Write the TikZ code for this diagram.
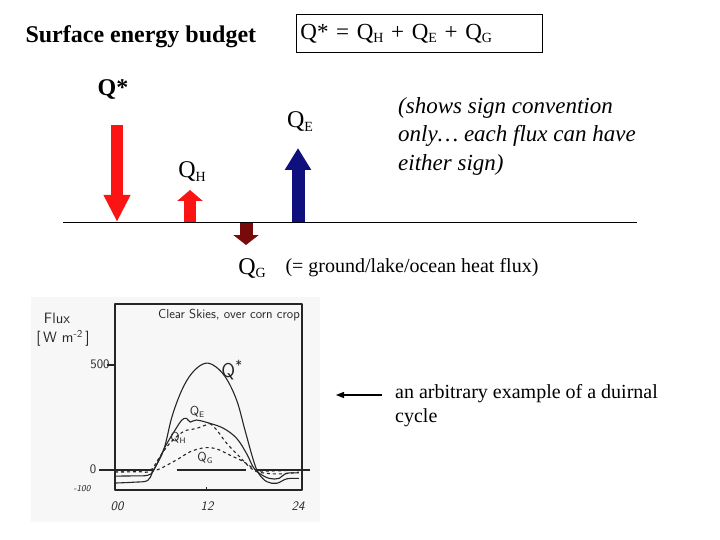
\documentclass[tikz,border=0pt]{standalone}
\usepackage{fontspec}
\setmainfont{Liberation Serif}
\usetikzlibrary{arrows.meta}
\definecolor{fluxred}{RGB}{250,20,20}
\definecolor{fluxblue}{RGB}{15,15,125}
\definecolor{fluxbrown}{RGB}{120,10,10}
\newcommand{\lowsub}[1]{\raisebox{-0.3ex}{\fontsize{14}{14}\selectfont #1}}
\newcommand{\handsub}[1]{\raisebox{-0.3ex}{\fontsize{8}{8}\selectfont #1}}
\tikzset{
    fluxarrow/.style={
        line width=12pt, % shaft width
        -{Triangle[width=25pt,length=#1]} % head, length given per arrow
    },
    qlabel/.style={
        font=\fontsize{24}{28}\selectfont
    },
    eqbox/.style={
        draw,
        line width=0.8pt, % thin frame
        minimum height=38pt,
        text width=238pt,
        inner xsep=4pt,
        align=left,
        font=\fontsize{23}{26}\selectfont
    },
    handline/.style={
        line width=1.1pt,
        line join=round,
        black!85
    },
    handtext/.style={
        font=\sffamily\fontsize{13}{15}\selectfont,
        black!85
    }
}

\begin{document}
\begin{tikzpicture}[
                x=1pt, y=-1pt,
                every node/.style={
                    font=\fontsize{20}{24}\selectfont
                }
            ]
            \useasboundingbox (0,0) rectangle (720,540);
            % heading
            \node[anchor=west, font=\bfseries\fontsize{24}{28}\selectfont] (title) at (22,37) {Surface energy budget};
            \node[eqbox, anchor=north west] (budget) at (296,14) {Q* = Q\lowsub{H} + Q\lowsub{E} + Q\lowsub{G}};

            % flux arrows on the surface
            \coordinate (ground west) at (63,222);
            \coordinate (ground east) at (637,222);
            \coordinate (qs tail) at (117,125);
            \coordinate (qs tip) at (117,222);
            \coordinate (qh tail) at (190,222);
            \coordinate (qh tip) at (190,190);
            \coordinate (qe tail) at (298,222);
            \coordinate (qe tip) at (298,148);
            \coordinate (qg tail) at (246,222);
            \coordinate (qg tip) at (246,245);
            \draw[fluxarrow=27pt, fluxred] (qs tail) -- (qs tip);
            \draw[fluxarrow=11pt, fluxred] (qh tail) -- (qh tip);
            \draw[fluxarrow=22pt, fluxblue, line width=13pt] (qe tail) -- (qe tip);
            \draw[fluxarrow=10pt, fluxbrown, line width=13pt] (qg tail) -- (qg tip);
            \draw[line width=0.8pt] (ground west) -- (ground east);

            \node[qlabel, font=\bfseries\fontsize{24}{28}\selectfont] (qs label) at (113,90) {Q*};
            \node[qlabel] (qe label) at (300,122) {Q\lowsub{E}};
            \node[qlabel] (qh label) at (192,172) {Q\lowsub{H}};
            \node[qlabel] (qg label) at (252,268) {Q\lowsub{G}};
            \node[anchor=west] (gflux note) at (282,268) {(= ground/lake/ocean heat flux)};
            \node[anchor=north west, inner sep=0, align=left, font=\itshape\fontsize{23}{28.5}\selectfont] (sign note) at (398,97) {(shows sign convention\\only\ldots{} each flux can have\\either sign)};

            % diurnal example
            \node[anchor=north west, inner sep=0, align=left] (cycle note) at (395,384) {an arbitrary example of a duirnal\\cycle};
            \coordinate (ptr tail) at (382,395);
            \coordinate (ptr tip) at (336,395);
            \draw[line width=1.2pt, -{Triangle[length=8pt,width=6pt]}] (ptr tail) -- (ptr tip);

            \fill[black!3] (31,297) rectangle (320,522);
            \draw[handline] (115,304) rectangle (302,490);
            \begin{scope}[shift={(115,470)}, x=7.6pt, y=0.21pt]
                \draw[handline] (-2.1,0) -- (5,0) (8.1,0) -- (17.3,0) (18.5,0) -- (25.6,0);
                \draw[handline] (-1.1,500) -- (0,500) (12,-100) -- (12,-80);
                % Q*
                \draw[handline] plot[smooth, tension=0.6] coordinates {(0,-62) (2.5,-58) (4.3,-50) (5.0,-5) (6.4,95) (7.5,254) (8.8,381) (10.1,460) (11.6,505) (12.9,500) (14.5,444) (16,333) (17.1,190) (18.2,48) (18.9,-16) (20,-56) (21.3,-63) (22.6,-42) (24.2,-40)};
                % QE
                \draw[handline] plot[smooth, tension=0.6] coordinates {(0,-29) (2.5,-28) (4.3,-25) (5.1,0) (6.6,111) (7.9,190) (8.8,238) (9.4,246) (9.9,228) (10.7,238) (12.5,222) (14.3,198) (16,151) (17.3,79) (18.2,13) (19,-16) (20.3,-40) (21.6,-40) (22.5,-16) (24.2,-14)};
                % QH
                \draw[handline, dashed] plot[smooth, tension=0.6] coordinates {(0,-10) (3,-8) (4.6,-5) (5.9,63) (7.2,127) (9,183) (10.7,198) (12.5,222)};
                \draw[handline, dashed] plot[smooth, tension=0.6] coordinates {(12.5,222) (13.4,190) (14.7,127) (16.4,63) (18.2,0) (20,-16) (22.2,-18) (24.2,-10)};
                % QG
                \draw[handline, dashed] plot[smooth, tension=0.6] coordinates {(0,-5) (4,-3) (5.5,0) (8.1,48) (9.9,87) (11.8,106) (13.4,100) (15.1,71) (16.9,40) (18.6,0) (20,-5) (24.2,0)};
            \end{scope}
            \node[handtext] (clear) at (229,315) {Clear Skies, over corn crop};
            \node[handtext, font=\sffamily\fontsize{15}{17}\selectfont] (flux) at (57,318) {Flux};
            \node[handtext, font=\sffamily\fontsize{15}{17}\selectfont] (units) at (63,338) {[\,W m\textsuperscript{-2}\,]};
            \node[handtext] (tick 500) at (100,364) {500};
            \node[handtext] (tick 0) at (93,469) {0};
            \node[handtext, font=\sffamily\slshape\fontsize{9}{10}\selectfont] (tick -100) at (82,489) {-100};
            \node[handtext, font=\sffamily\slshape\fontsize{13}{15}\selectfont] (hour 0) at (117,506) {00};
            \node[handtext, font=\sffamily\slshape\fontsize{13}{15}\selectfont] (hour 12) at (207,506) {12};
            \node[handtext, font=\sffamily\slshape\fontsize{13}{15}\selectfont] (hour 24) at (298,506) {24};
            \node[handtext, font=\sffamily\fontsize{20}{22}\selectfont] (plot qs) at (232,370) {Q\textsuperscript{*}};
            \node[handtext] (plot qe) at (197,412) {Q\handsub{E}};
            \node[handtext] (plot qh) at (178,438) {Q\handsub{H}};
            \node[handtext] (plot qg) at (205,458) {Q\handsub{G}};
            \end{tikzpicture}
\end{document}
